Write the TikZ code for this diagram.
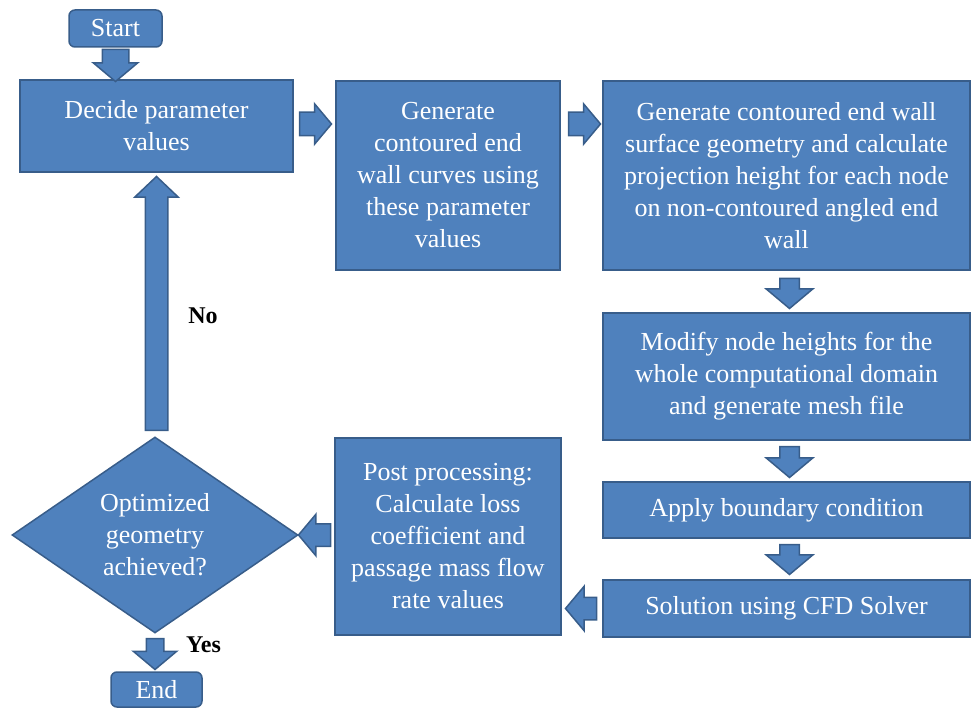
\documentclass[tikz,border=0pt]{standalone}
\usepackage{fontspec}
\setmainfont{Liberation Serif}
\usetikzlibrary{shapes.geometric, shapes.arrows, calc}
\definecolor{boxfill}{HTML}{4F81BD}
\definecolor{boxline}{HTML}{385D8A}

\begin{document}
\begin{tikzpicture}[
    x=1pt, y=-1pt,
    box/.style={rectangle, draw=boxline, fill=boxfill, line width=1.5pt, text=white, align=center, font=\fontsize{26}{32}\selectfont, inner sep=0pt},
    term/.style={box, rounded corners=6pt},
    decision/.style={diamond, draw=boxline, fill=boxfill, line width=1.5pt, text=white, align=center, font=\fontsize{26}{32}\selectfont, inner sep=0pt, aspect=1.46},
    barrow/.style={single arrow, draw=boxline, fill=boxfill, line width=1.5pt, inner xsep=0pt, anchor=tail, single arrow tip angle=100, single arrow head indent=0pt},
    answer/.style={font=\fontsize{24}{28}\selectfont\bfseries}
]
\useasboundingbox (0,0) rectangle (972,708);

% Terminals
\node[term, minimum width=93pt, minimum height=37pt] (start) at (115.5, 28.5) {Start};
\node[term, minimum width=91pt, minimum height=35pt] (end) at (156.5, 689.5) {End};

% Top row
\node[box, minimum width=273pt, minimum height=92pt] (decide) at (156.5, 126) {Decide parameter\\values};

\node[box, minimum width=224pt, minimum height=189pt] (curves) at (448, 175.5) {Generate\\contoured end\\wall curves using\\these parameter\\values};

\node[box, minimum width=367pt, minimum height=189pt] (surface) at (786.5, 175.5) {Generate contoured end wall\\surface geometry and calculate\\projection height for each node\\on non-contoured angled end\\wall};

% Right column
\node[box, minimum width=367pt, minimum height=127pt] (mesh) at (786.5, 376.5) {Modify node heights for the\\whole computational domain\\and generate mesh file};
\node[box, minimum width=367pt, minimum height=56pt] (boundary) at (786.5, 510) {Apply boundary condition};
\node[box, minimum width=367pt, minimum height=57pt] (solver) at (786.5, 608.5) {Solution using CFD Solver};

% Post processing and check
\node[box, minimum width=226pt, minimum height=197pt] (post) at (448, 536.5) {Post processing:\\Calculate loss\\coefficient and\\passage mass flow\\rate values};
\node[decision, minimum width=286pt, minimum height=196pt] (optimum) at (155, 535) {Optimized\\geometry\\achieved?};

% Block arrows (placed by their tails)
\node[barrow, rotate=-90, minimum height=32pt, inner ysep=12.5pt, single arrow head extend=9pt] (a0) at ($(start.south)+(0,1)$) {};
\node[barrow, minimum height=32pt, inner ysep=11pt, single arrow head extend=8.5pt] (a1) at ($(decide.east)+(5,-2)$) {};
\coordinate (m2) at ($(curves.east)+(7,0)$);
\node[barrow, minimum height=32pt, inner ysep=11pt, single arrow head extend=8.5pt] (a2) at (m2 |- a1.tail) {};
\node[barrow, rotate=-90, minimum height=30pt, inner ysep=9pt, single arrow head extend=13.5pt] (a3) at ($(surface.south)+(3,7)$) {};
\node[barrow, rotate=-90, minimum height=31pt, inner ysep=9pt, single arrow head extend=13.5pt] (a4) at ($(mesh.south)+(3,5)$) {};
\node[barrow, rotate=-90, minimum height=30pt, inner ysep=9pt, single arrow head extend=13.5pt] (a5) at ($(boundary.south)+(3,5)$) {};
\node[barrow, rotate=180, minimum height=31pt, inner ysep=10.5pt, single arrow head extend=11pt] (a6) at ($(solver.west)+(-5,0)$) {};
\node[barrow, rotate=180, minimum height=32pt, inner ysep=10.5pt, single arrow head extend=9.5pt] (a7) at ($(post.west)+(-3,-1.5)$) {};
\node[barrow, rotate=90, minimum height=254pt, inner ysep=10.5pt, single arrow head extend=10.5pt, single arrow tip angle=93] (a8) at ($(optimum.north)+(1.5,-5)$) {};
\node[barrow, rotate=-90, minimum height=31pt, inner ysep=8pt, single arrow head extend=13pt] (a9) at ($(optimum.south)+(0,4)$) {};

% Answers
\node[answer] (no) at (203, 316) {No};
\node[answer] (yes) at (203.5, 645) {Yes};

\end{tikzpicture}
\end{document}
